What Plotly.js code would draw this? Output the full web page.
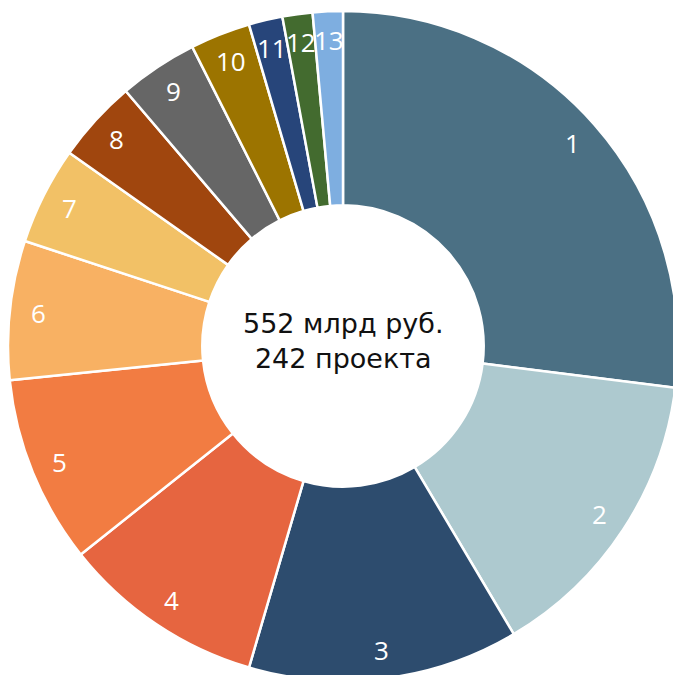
<!DOCTYPE html>
<html>
<head>
<meta charset="utf-8">
<script src="https://cdn.plot.ly/plotly-3.0.1.min.js"></script>
<style>html,body{margin:0;padding:0;background:#fff;overflow:hidden;width:673px;height:675px;}#wrap{width:673px;height:675px;overflow:hidden;}</style>
</head>
<body>
<div id="wrap"><div id="chart"></div></div>
<script>
const labels = ["1","2","3","4","5","6","7","8","9","10","11","12","13"];
const values = [149, 80, 72, 54, 50, 37, 26, 22, 21, 16, 9, 8, 8];
const colors = ["#4B7084","#ADC9CF","#2D4C6E","#E66540","#F27C42","#F8B163","#F2C166","#A0460E","#666666","#9C7400","#27457A","#436B2F","#7EAEE0"];
const centerText = ["552 млрд руб.", "242 проекта"];

const W = 678, H = 681;
const margin = {l: 8, r: 0, t: 11, b: 0};
const pw = W - margin.l - margin.r, ph = H - margin.t - margin.b;
const R = Math.min(pw, ph) / 2;
const labelR = 0.915 * R;

const total = values.reduce((a, b) => a + b, 0);
let cum = 0;
const annotations = [];
values.forEach((v, i) => {
  const mid = (cum + v / 2) / total * 2 * Math.PI;
  cum += v;
  annotations.push({
    x: 0.5 + labelR * Math.sin(mid) / pw,
    y: 0.5 + labelR * Math.cos(mid) / ph,
    xref: "paper", yref: "paper",
    text: labels[i], showarrow: false,
    xanchor: "center", yanchor: "middle",
    font: {family: "Open Sans, sans-serif", size: 26, color: "#ffffff"}
  });
});
annotations.push({
  x: 0.5, y: 0.507, xref: "paper", yref: "paper",
  text: centerText.join("<br>"), showarrow: false,
  xanchor: "center", yanchor: "middle",
  font: {family: "DejaVu Sans, sans-serif", size: 27, color: "#111111"}
});

const trace = {
  type: "pie",
  labels: labels,
  values: values,
  sort: false,
  direction: "clockwise",
  rotation: 0,
  hole: 0.42,
  textinfo: "none",
  hoverinfo: "label+value",
  marker: {colors: colors, line: {color: "#ffffff", width: 2.5}},
  showlegend: false
};

Plotly.newPlot("chart", [trace], {
  width: W, height: H,
  margin: margin,
  paper_bgcolor: "#ffffff",
  showlegend: false,
  annotations: annotations
}, {displayModeBar: false, staticPlot: true});
</script>
</body>
</html>
